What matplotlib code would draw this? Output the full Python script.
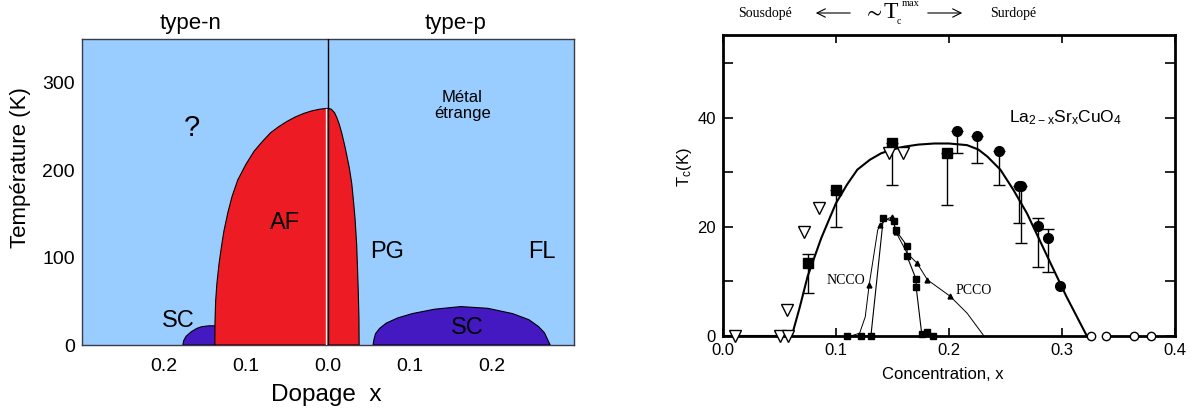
import matplotlib
matplotlib.use('Agg')
import matplotlib.pyplot as plt
import numpy as np

plt.rcParams['font.family'] = ['Liberation Sans', 'DejaVu Sans']

# --- left panel: schematic phase diagram (doping x, temperature K) ---
af_x = [-0.138, -0.1378, -0.137, -0.1355, -0.133, -0.130, -0.127, -0.122, -0.117,
        -0.110, -0.100, -0.090, -0.080, -0.070, -0.060, -0.050, -0.040, -0.030,
        -0.020, -0.010, 0.0, 0.004, 0.008, 0.011, 0.014, 0.017, 0.021, 0.026,
        0.029, 0.031, 0.033, 0.035, 0.036, 0.037, 0.0378, 0.038]
af_T = [0, 25, 50, 70, 92, 112, 130, 152, 170,
        189, 207, 222, 233, 243, 250, 256, 261, 265,
        268, 270, 271, 270, 266, 260, 252, 242, 226, 203,
        185, 166, 145, 115, 89, 60, 30, 0]

sc_n_x = [-0.177, -0.176, -0.173, -0.167, -0.160, -0.154, -0.145, -0.130, -0.130]
sc_n_T = [0, 5, 10, 15, 19, 21, 22, 22, 0]

sc_p_x = [0.055, 0.056, 0.058, 0.063, 0.071, 0.085, 0.103, 0.130, 0.162, 0.195,
          0.225, 0.245, 0.257, 0.264, 0.268, 0.271]
sc_p_T = [0, 6, 13, 19, 25, 31, 36, 41, 44, 42, 36, 29, 21, 14, 6, 0]

left_ticks = [-0.2, -0.1, 0.0, 0.1, 0.2]
left_ticklabels = ['0.2', '0.1', '0.0', '0.1', '0.2']

# --- right panel: Tc(x) of La2-xSrxCuO4, NCCO, PCCO ---
curve_x = [0.0, 0.061, 0.068, 0.075, 0.087, 0.100, 0.110, 0.119, 0.130, 0.140,
           0.150, 0.160, 0.173, 0.187, 0.200, 0.216, 0.226, 0.234, 0.2455, 0.257,
           0.269, 0.287, 0.304, 0.322]
curve_T = [0, 0, 5.2, 10.9, 17.9, 24.3, 27.8, 30.5, 32.3, 33.5,
           34.2, 34.7, 35.1, 35.3, 35.3, 35.0, 34.2, 32.9, 30.5, 26.8,
           22.5, 14.6, 7.2, 0]

opentri_x = [0.011, 0.051, 0.058, 0.057, 0.072, 0.085, 0.147, 0.159]
opentri_T = [0, 0, 0, 4.8, 19.1, 23.4, 33.5, 33.5]

lsq_x = [0.075, 0.100, 0.1495, 0.1985]
lsq_T = [13.3, 26.8, 35.4, 33.5]
lsq_lo = [7.9, 19.9, 27.7, 24.0]
lsq_hi = [15.0, 26.8, 35.4, 33.5]

lci_x = [0.207, 0.225, 0.2447, 0.2617, 0.2637, 0.279, 0.288]
lci_T = [37.5, 36.6, 33.9, 27.5, 27.5, 20.1, 18.0]
lci_lo = [33.6, 31.8, 27.7, 20.8, 17.0, 12.6, 11.8]
lci_hi = [37.5, 36.6, 33.9, 27.5, 27.5, 21.6, 19.6]
last_x = [0.2984]
last_T = [9.1]

opencirc_x = [0.326, 0.339, 0.364, 0.379]
opencirc_T = [0, 0, 0, 0]

sq_x = [0.110, 0.122, 0.131, 0.142, 0.151, 0.153, 0.163, 0.163, 0.171, 0.171,
        0.176, 0.181, 0.186]
sq_T = [0, 0, 0, 21.6, 21.0, 19.4, 16.5, 14.6, 10.4, 9.0, 0.3, 0.8, 0]

tri_x = [0.113, 0.121, 0.126, 0.1295, 0.137, 0.139, 0.146, 0.150, 0.153, 0.163,
         0.172, 0.181, 0.201, 0.216, 0.231]
tri_T = [0, 0.5, 3.5, 9.4, 19.4, 20.4, 21.5, 21.9, 19.1, 15.2, 13.3, 10.3, 7.3, 4.2, 0]
tri_marks = [3, 5, 7, 8, 10, 11, 12]

blue = '#99CCFF'
red = '#ED1C24'
purple = '#4419C2'

fig = plt.figure(figsize=(12.02, 4.12), dpi=100)

# ================= left panel =================
ax1 = fig.add_axes([0.0682, 0.1626, 0.4093, 0.742])
ax1.set_facecolor(blue)
ax1.fill(sc_n_x, sc_n_T, facecolor=purple, edgecolor='black', lw=0.8, zorder=2)
ax1.fill(af_x, af_T, facecolor=red, edgecolor='black', lw=0.8, zorder=3)
ax1.fill(sc_p_x, sc_p_T, facecolor=purple, edgecolor='black', lw=0.8, zorder=3)
ax1.plot([0, 0], [0, 350], color='black', lw=1, zorder=4)
ax1.plot([-0.0022, -0.0022], [0, 270], color='white', lw=1, zorder=4)
ax1.set_xlim(-0.3, 0.3)
ax1.set_ylim(0, 350)
ax1.set_xticks(left_ticks)
ax1.set_xticklabels(left_ticklabels)
ax1.set_yticks([0, 100, 200, 300])
ax1.tick_params(axis='both', length=0, labelsize=14)
ax1.tick_params(axis='x', pad=9)
ax1.tick_params(axis='y', pad=5)
for s in ax1.spines.values():
    s.set_color('#3a3a48')
    s.set_linewidth(1.0)
ax1.set_ylabel('Température (K)', fontsize=16)
ax1.yaxis.set_label_coords(-0.104, 0.58)
ax1.set_xlabel('Dopage  x', fontsize=17.5)
ax1.xaxis.set_label_coords(0.496, -0.128)

tr = ax1.get_xaxis_transform()
ax1.text(-0.167, 1.053, 'type-n', transform=tr, ha='center', va='center', fontsize=16)
ax1.text(0.156, 1.053, 'type-p', transform=tr, ha='center', va='center', fontsize=16)
ax1.text(-0.052, 140, 'AF', ha='center', va='center', fontsize=17, zorder=5)
ax1.text(0.072, 106, 'PG', ha='center', va='center', fontsize=17)
ax1.text(0.261, 106, 'FL', ha='center', va='center', fontsize=17)
ax1.text(-0.183, 27, 'SC', ha='center', va='center', fontsize=17)
ax1.text(0.170, 19, 'SC', ha='center', va='center', fontsize=17, zorder=5)
ax1.text(-0.166, 249, '?', ha='center', va='center', fontsize=21)
ax1.text(0.164, 274, 'Métal\nétrange', ha='center', va='center', fontsize=12,
         linespacing=1.1)

# ================= right panel =================
ax2 = fig.add_axes([0.6013, 0.1845, 0.3763, 0.7306])
ax2.plot(curve_x, curve_T, color='black', lw=1.5, zorder=3)
ax2.plot([0, 0.323], [0, 0], color='black', lw=2, clip_on=False, zorder=3)
ax2.plot([0.339, 0.4], [0, 0], color='black', lw=2, clip_on=False, zorder=3)

ax2.plot(sq_x, sq_T, color='black', lw=0.8, marker='s', ms=4.5, zorder=4,
         clip_on=False)
ax2.plot(tri_x, tri_T, color='black', lw=0.7, marker='^', ms=3.5,
         markevery=tri_marks, zorder=4, clip_on=False)

ax2.errorbar(lsq_x, lsq_T,
             yerr=[np.subtract(lsq_T, lsq_lo), np.subtract(lsq_hi, lsq_T)],
             fmt='s', color='black', ms=7, capsize=4, elinewidth=1, capthick=1,
             zorder=5)
ax2.errorbar(lci_x, lci_T,
             yerr=[np.subtract(lci_T, lci_lo), np.subtract(lci_hi, lci_T)],
             fmt='o', color='black', ms=7, capsize=4, elinewidth=1, capthick=1,
             zorder=5)
ax2.plot(last_x, last_T, 'o', color='black', ms=7, zorder=5)

ax2.plot(opentri_x, opentri_T, ls='none', marker='v', mfc='white', mec='black',
         ms=8.5, mew=1, clip_on=False, zorder=6)
ax2.plot(opencirc_x, opencirc_T, ls='none', marker='o', mfc='white', mec='black',
         ms=6, mew=1, clip_on=False, zorder=6)

ax2.set_xlim(0, 0.4)
ax2.set_ylim(0, 55.2)
ax2.set_xticks([0.0, 0.1, 0.2, 0.3, 0.4])
ax2.set_xticklabels(['0.0', '0.1', '0.2', '0.3', '0.4'])
ax2.set_yticks([0, 20, 40])
ax2.set_yticks([10, 30, 50], minor=True)
ax2.tick_params(axis='x', direction='in', top=True, length=6, width=1.2,
                labelsize=12, pad=5)
ax2.tick_params(axis='y', which='both', direction='in', right=True, length=7,
                width=1.2, labelsize=12, pad=5)
for s in ax2.spines.values():
    s.set_linewidth(2)
ax2.spines['bottom'].set_visible(False)

ax2.set_xlabel('Concentration, x', fontsize=12)
ax2.xaxis.set_label_coords(0.487, -0.103)
ax2.set_ylabel(r'$\mathregular{T_c(K)}$', fontsize=12)
ax2.yaxis.set_label_coords(-0.063, 0.56)

ax2.text(0.253, 40, r'$\mathregular{La_{2-x}Sr_xCuO_4}$', ha='left', va='center',
         fontsize=12.5)
ax2.text(0.109, 10.1, 'NCCO', family=['Liberation Serif'], fontsize=10,
         ha='center', va='center')
ax2.text(0.206, 8.3, 'PCCO', family=['Liberation Serif'], fontsize=10,
         ha='left', va='center')

# header above right panel
W, H = 1202, 412
fig.text(765 / W, 1 - 13 / H, 'Sousdopé', family=['Liberation Serif'], fontsize=10,
         ha='center', va='center')
fig.text(1013 / W, 1 - 13 / H, 'Surdopé', family=['Liberation Serif'], fontsize=10,
         ha='center', va='center')
fig.text(873 / W, 1 - 12 / H, r'$\sim$', math_fontfamily='stix', fontsize=16,
         ha='center', va='center')
fig.text(891 / W, 1 - 13 / H, 'T', family=['Liberation Serif'], fontsize=17,
         ha='center', va='center')
fig.text(911 / W, 1 - 3 / H, 'max', family=['Liberation Serif'], fontsize=7.5,
         ha='center', va='center')
fig.text(899 / W, 1 - 22 / H, 'c', family=['Liberation Serif'], fontsize=7,
         ha='center', va='center')
fig.add_artist(matplotlib.patches.FancyArrowPatch(
    (853 / W, 1 - 13 / H), (813 / W, 1 - 13 / H), transform=fig.transFigure,
    arrowstyle='->,head_length=6,head_width=3', lw=0.8, color='black'))
fig.add_artist(matplotlib.patches.FancyArrowPatch(
    (925 / W, 1 - 13 / H), (965 / W, 1 - 13 / H), transform=fig.transFigure,
    arrowstyle='->,head_length=6,head_width=3', lw=0.8, color='black'))

fig.savefig('out.png', dpi=100)
